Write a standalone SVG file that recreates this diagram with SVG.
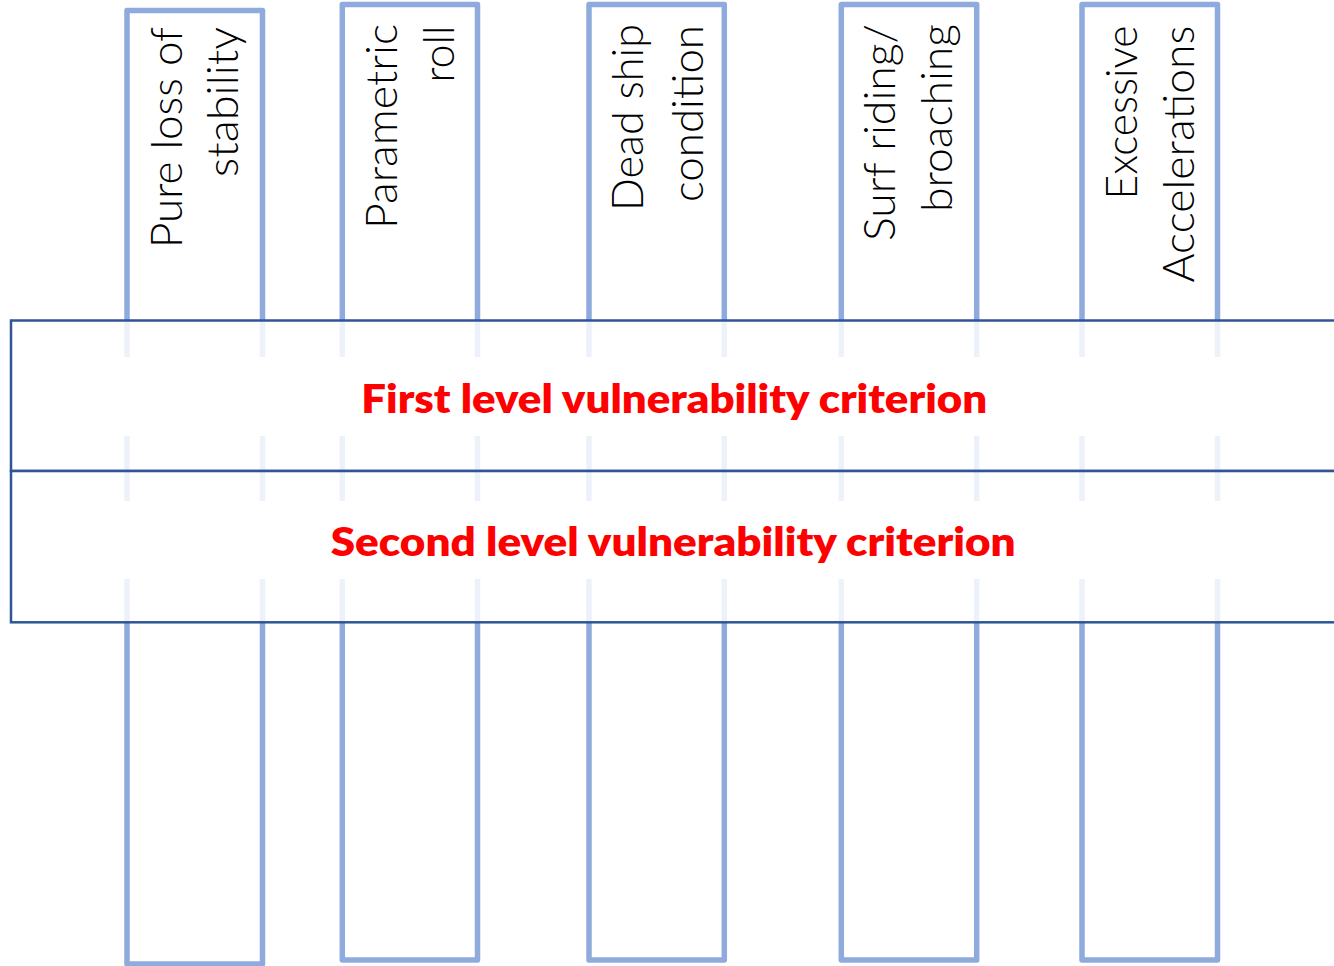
<svg xmlns="http://www.w3.org/2000/svg" width="1334" height="966" viewBox="0 0 1334 966">
  <style>
    .col { fill: #ffffff; stroke: #8faadc; stroke-width: 5.5; stroke-linejoin: round; }
    .lbl { font-family: Lato, "Open Sans", "Liberation Sans", sans-serif; font-weight: 300; font-size: 43px; fill: #000000; }
    .band { fill: #ffffff; fill-opacity: 0.84; stroke: none; }
    .clear { fill: #ffffff; stroke: none; }
    .edge { fill: none; stroke: #2f5597; stroke-width: 2.5; }
    .crit { font-family: Lato, "Open Sans", "Liberation Sans", sans-serif; font-weight: 800; font-size: 40px; fill: #ff0000; text-anchor: middle; }
  </style>

  <rect width="1334" height="966" fill="#ffffff"/>

  <!-- failure-mode columns -->
  <g id="col-pure-loss">
    <rect class="col" x="127" y="10.5" width="135.5" height="953.5"/>
    <text class="lbl" transform="translate(181.7,27) rotate(-90)" text-anchor="end" textLength="221" lengthAdjust="spacingAndGlyphs">Pure loss of</text>
    <text class="lbl" transform="translate(238.3,27) rotate(-90)" text-anchor="end" textLength="150" lengthAdjust="spacingAndGlyphs">stability</text>
  </g>

  <g id="col-parametric-roll">
    <rect class="col" x="342.3" y="4.5" width="135.2" height="955.5"/>
    <text class="lbl" transform="translate(396.7,24) rotate(-90)" text-anchor="end" textLength="205" lengthAdjust="spacingAndGlyphs">Parametric</text>
    <text class="lbl" transform="translate(454,25.5) rotate(-90)" text-anchor="end" textLength="57" lengthAdjust="spacingAndGlyphs">roll</text>
  </g>

  <g id="col-dead-ship">
    <rect class="col" x="589" y="4.5" width="135.3" height="955.5"/>
    <text class="lbl" transform="translate(643.3,24) rotate(-90)" text-anchor="end" textLength="187" lengthAdjust="spacingAndGlyphs">Dead ship</text>
    <text class="lbl" transform="translate(703.3,25) rotate(-90)" text-anchor="end" textLength="177" lengthAdjust="spacingAndGlyphs">condition</text>
  </g>

  <g id="col-surf-riding">
    <rect class="col" x="841.3" y="4.5" width="135.4" height="955.5"/>
    <text class="lbl" transform="translate(895,24) rotate(-90)" text-anchor="end" textLength="217" lengthAdjust="spacingAndGlyphs">Surf riding/</text>
    <text class="lbl" transform="translate(952,24) rotate(-90)" text-anchor="end" textLength="188" lengthAdjust="spacingAndGlyphs">broaching</text>
  </g>

  <g id="col-excessive-acc">
    <rect class="col" x="1082" y="4.5" width="135.5" height="955.5"/>
    <text class="lbl" transform="translate(1137.3,25.5) rotate(-90)" text-anchor="end" textLength="174" lengthAdjust="spacingAndGlyphs">Excessive</text>
    <text class="lbl" transform="translate(1194,25.5) rotate(-90)" text-anchor="end" textLength="257" lengthAdjust="spacingAndGlyphs">Accelerations</text>
  </g>

  <!-- criterion bands laid across the columns -->
  <g id="band-first-level">
    <rect class="band" x="11" y="320.5" width="1340" height="150.5"/>
    <rect class="clear" x="11" y="357" width="1340" height="79"/>
    <rect class="edge" x="11" y="320.5" width="1340" height="150.5"/>
    <text class="crit" x="674.2" y="413.3" textLength="626" lengthAdjust="spacingAndGlyphs">First level vulnerability criterion</text>
  </g>

  <g id="band-second-level">
    <rect class="band" x="11" y="471" width="1340" height="151.3"/>
    <rect class="clear" x="11" y="501" width="1340" height="78"/>
    <rect class="edge" x="11" y="471" width="1340" height="151.3"/>
    <text class="crit" x="673.2" y="556" textLength="685" lengthAdjust="spacingAndGlyphs">Second level vulnerability criterion</text>
  </g>
</svg>
